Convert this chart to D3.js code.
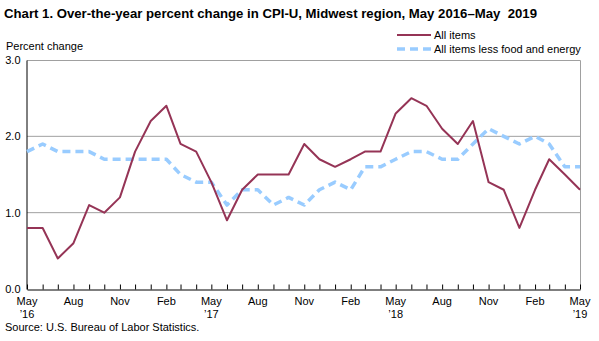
<!DOCTYPE html>
<html>
<head>
<meta charset="utf-8">
<script src="https://d3js.org/d3.v7.min.js"></script>
<style>
  body { margin: 0; background: #fff; }
  svg text { font-family: "Liberation Sans", Arial, sans-serif; fill: #000; }
</style>
</head>
<body>
<svg id="chart" width="599" height="341"></svg>
<script>
'use strict';

// monthly observations, May 2016 - May 2019
var months = d3.range(37).map(function(i) {
  return new Date(2016, 4 + i, 1);
});

var allItems = [0.8, 0.8, 0.4, 0.6, 1.1, 1.0, 1.2, 1.8, 2.2, 2.4, 1.9, 1.8,
  1.4, 0.9, 1.3, 1.5, 1.5, 1.5, 1.9, 1.7, 1.6, 1.7, 1.8, 1.8,
  2.3, 2.5, 2.4, 2.1, 1.9, 2.2, 1.4, 1.3, 0.8, 1.3, 1.7, 1.5, 1.3];

var coreItems = [1.8, 1.9, 1.8, 1.8, 1.8, 1.7, 1.7, 1.7, 1.7, 1.7, 1.5, 1.4,
  1.4, 1.1, 1.3, 1.3, 1.1, 1.2, 1.1, 1.3, 1.4, 1.3, 1.6, 1.6,
  1.7, 1.8, 1.8, 1.7, 1.7, 1.9, 2.1, 2.0, 1.9, 2.0, 1.9, 1.6, 1.6];

var yTicks = [0, 1, 2, 3];
var monthNames = ['Jan', 'Feb', 'Mar', 'Apr', 'May', 'Jun', 'Jul', 'Aug', 'Sep', 'Oct', 'Nov', 'Dec'];

var series = [
  { name: 'All items', values: allItems, color: '#953456', width: 2, dash: null },
  { name: 'All items less food and energy', values: coreItems, color: '#99ccff', width: 3.5, dash: '8,5' }
];

var margin = { top: 60, right: 19, bottom: 52, left: 27 };
var svg = d3.select('#chart');
var width = 599 - margin.left - margin.right;
var height = 341 - margin.top - margin.bottom;

var x = d3.scaleTime()
  .domain([months[0], months[months.length - 1]])
  .range([margin.left, margin.left + width]);

var y = d3.scaleLinear()
  .domain([0, 3])
  .range([margin.top + height, margin.top]);

// title
svg.append('text')
  .attr('x', 4)
  .attr('y', 18)
  .attr('textLength', 533)
  .attr('lengthAdjust', 'spacingAndGlyphs')
  .style('font-size', '13px')
  .style('font-weight', 'bold')
  .text('Chart 1. Over-the-year percent change in CPI-U, Midwest region, May 2016\u2013May\u00a0 2019');

svg.append('text')
  .attr('x', 6)
  .attr('y', 50)
  .style('font-size', '11px')
  .text('Percent change');

// grid lines
svg.append('g')
  .selectAll('line')
  .data([1, 2])
  .enter()
  .append('line')
  .attr('x1', margin.left)
  .attr('x2', margin.left + width)
  .attr('y1', function(d) { return y(d); })
  .attr('y2', function(d) { return y(d); })
  .attr('stroke', '#a0a0a0')
  .attr('stroke-width', 1);

// top and right frame
svg.append('path')
  .attr('d', 'M' + margin.left + ',' + (margin.top + 0.5) + 'H' + (margin.left + width + 0.5) + 'V' + (margin.top + height))
  .attr('fill', 'none')
  .attr('stroke', '#a0a0a0')
  .attr('stroke-width', 1);

// y axis
var yAxis = d3.axisLeft(y)
  .tickValues(yTicks)
  .tickSize(0)
  .tickPadding(6)
  .tickFormat(d3.format('.1f'));

var gy = svg.append('g')
  .attr('transform', 'translate(' + (margin.left - 0.5) + ',0)')
  .call(yAxis);
gy.select('.domain').attr('stroke', '#000');
gy.selectAll('text').style('font-size', '11px').attr('font-family', null);

// x axis: monthly ticks pointing up
var xAxis = d3.axisBottom(x)
  .tickValues(months)
  .tickSizeInner(-5)
  .tickSizeOuter(0)
  .tickFormat('');

var gx = svg.append('g')
  .attr('transform', 'translate(0,' + (margin.top + height + 0.5) + ')')
  .call(xAxis);
gx.select('.domain').attr('stroke', '#000');
gx.selectAll('.tick line').attr('stroke', '#000');

// x labels every quarter
var labelMonths = months.filter(function(d, i) { return i % 3 === 0; });
var xl = svg.append('g')
  .selectAll('text')
  .data(labelMonths)
  .enter()
  .append('text')
  .attr('text-anchor', 'middle')
  .attr('transform', function(d) {
    return 'translate(' + x(d) + ',' + (margin.top + height + 16) + ')';
  })
  .style('font-size', '11px');

xl.append('tspan')
  .attr('x', 0)
  .text(function(d) { return monthNames[d.getMonth()]; });

xl.append('tspan')
  .attr('x', 0)
  .attr('dy', 13)
  .text(function(d) {
    return d.getMonth() === 4 ? '\u2019' + String(d.getFullYear()).slice(2) : '';
  });

// lines
var line = d3.line()
  .x(function(d, i) { return x(months[i]); })
  .y(function(d) { return y(d); });

svg.append('g')
  .selectAll('path')
  .data(series.slice().reverse())
  .enter()
  .append('path')
  .attr('d', function(s) { return line(s.values); })
  .attr('fill', 'none')
  .attr('stroke', function(s) { return s.color; })
  .attr('stroke-width', function(s) { return s.width; })
  .attr('stroke-dasharray', function(s) { return s.dash; })
  .attr('stroke-linejoin', 'round');

// legend
var legend = svg.append('g')
  .selectAll('g')
  .data(series)
  .enter()
  .append('g')
  .attr('transform', function(d, i) {
    return 'translate(397,' + (35 + i * 14) + ')';
  });

legend.append('line')
  .attr('x1', 0)
  .attr('x2', 34)
  .attr('stroke', function(s) { return s.color; })
  .attr('stroke-width', function(s) { return s.width; })
  .attr('stroke-dasharray', function(s) { return s.dash; });

legend.append('text')
  .attr('x', 37)
  .attr('dy', '0.35em')
  .style('font-size', '11px')
  .text(function(s) { return s.name; });

// source
svg.append('text')
  .attr('x', 5)
  .attr('y', 331)
  .style('font-size', '11px')
  .text('Source: U.S. Bureau of Labor Statistics.');
</script>
</body>
</html>
